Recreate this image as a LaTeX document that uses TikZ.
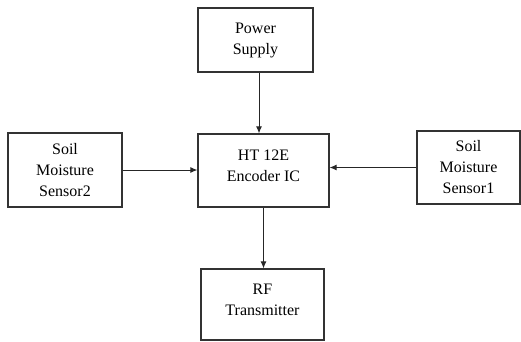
\documentclass[tikz,border=0pt]{standalone}
\usepackage{fontspec}
\setmainfont{Liberation Serif}
\usetikzlibrary{positioning}
\usetikzlibrary{calc}
\usetikzlibrary{arrows.meta}

\tikzset{
    blockbox/.style={draw=black!80, line width=1.2pt, align=center, inner sep=2pt,
        font=\fontsize{16}{21}\selectfont},
    raisedtext/.style={text depth=10pt},
    flowarrow/.style={-{Latex[length=7pt,width=6pt]}, line width=1pt, black!85}
}

\begin{document}
\begin{tikzpicture}[x=1pt, y=-1pt]
    \useasboundingbox (0,0) rectangle (521,341);
    % blocks
    \node[blockbox, minimum width=115pt, minimum height=64pt] (power) at (255.5,40) {Power\\Supply};
    \node[blockbox, raisedtext, minimum width=131pt, minimum height=73pt] (encoder) at (263.5,170.5) {HT 12E\\Encoder IC};
    \node[blockbox, minimum width=114pt, minimum height=74pt] (sensortwo) at (65,170) {Soil\\Moisture\\Sensor2};
    \node[blockbox, minimum width=103pt, minimum height=73pt] (sensorone) at (468.5,167.5) {Soil\\Moisture\\Sensor1};
    \node[blockbox, raisedtext, minimum width=123pt, minimum height=71pt] (rf) at (262.5,304.5) {RF\\Transmitter};
    % connections
    \draw[flowarrow] ([xshift=3.5pt]power.south) -- ([xshift=3.5pt]power.south |- encoder.north);
    \draw[flowarrow] (sensortwo.east) -- (sensortwo.east -| encoder.west);
    \draw[flowarrow] (sensorone.west) -- (sensorone.west -| encoder.east);
    \draw[flowarrow] (encoder.south) -- (encoder.south |- rf.north);
\end{tikzpicture}
\end{document}
